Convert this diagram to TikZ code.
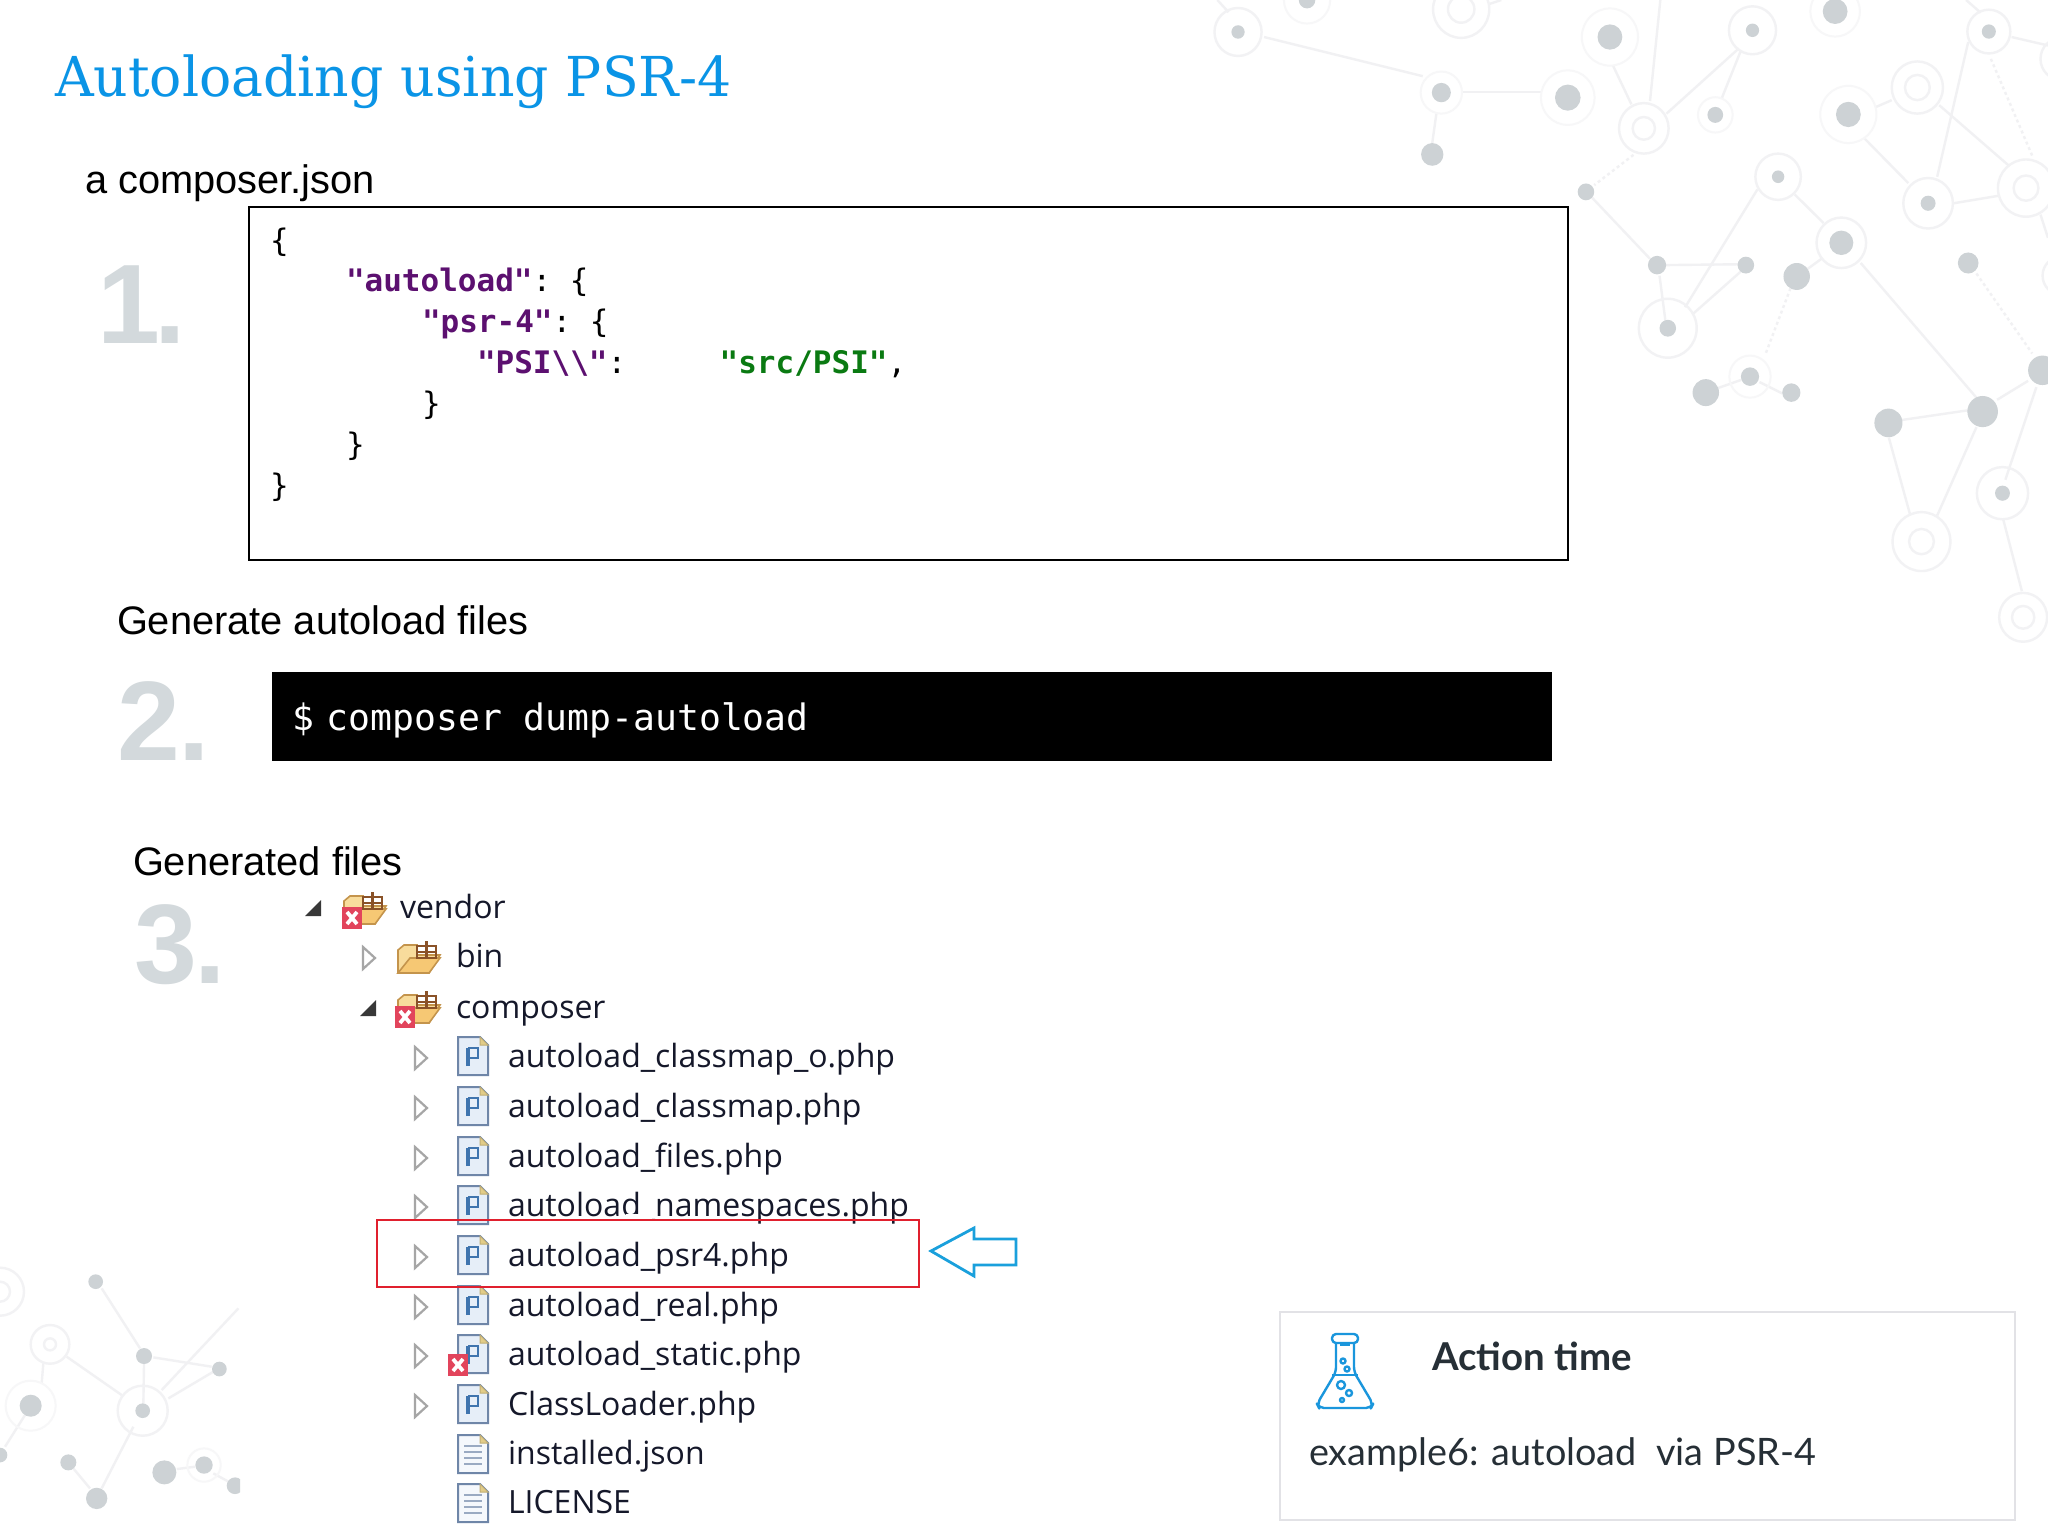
\documentclass[tikz,border=0pt]{standalone}
\usepackage{fontspec}
\setmainfont{Liberation Sans}
\setmonofont{DejaVu Sans Mono}
\newfontfamily\titlefont{DejaVu Serif}
\newfontfamily\treefont{Open Sans}
\newfontfamily\cardfont{Lato}
\definecolor{titleblue}{HTML}{0A94E6}
\definecolor{numgrey}{HTML}{D3D9DC}
\definecolor{keypurple}{HTML}{5C1070}
\definecolor{valgreen}{HTML}{0A7A12}
\definecolor{dotgrey}{HTML}{CDD2D5}
\definecolor{linegrey}{HTML}{F1F1F3}
\definecolor{ringgrey}{HTML}{F2F2F4}
\definecolor{treetext}{HTML}{15182A}
\definecolor{boxred}{HTML}{E0202E}
\definecolor{arrowblue}{HTML}{1AA0DC}
\definecolor{cardedge}{HTML}{E2E2E6}
\definecolor{cardtext}{HTML}{262F36}
\definecolor{flaskblue}{HTML}{1A96DC}
\definecolor{filefill}{HTML}{E6EEF8}
\definecolor{fileedge}{HTML}{6F86A8}
\definecolor{earfill}{HTML}{E2CC88}
\definecolor{pblue}{HTML}{3F74AE}
\definecolor{badgered}{HTML}{E2445C}
\definecolor{foldback}{HTML}{F8DC9C}
\definecolor{foldfront}{HTML}{F6C874}
\definecolor{foldedge}{HTML}{C4944C}
\definecolor{packbrown}{HTML}{8A5228}
\tikzset{
  txt/.style={inner sep=0pt,outer sep=0pt,anchor=base west},
  bodytxt/.style={txt,font=\fontsize{19.9}{24}\selectfont,text=black},
  bignum/.style={txt,font=\fontsize{56.5}{60}\selectfont\bfseries,text=numgrey},
  codetxt/.style={txt,font=\fontsize{15.5}{18}\selectfont\ttfamily},
  treetxt/.style={txt,font=\treefont\fontsize{16}{18}\selectfont,text=treetext},
  netline/.style={draw=linegrey,line width=1.2pt},
  netdot/.style={draw=linegrey,line width=1.2pt,dash pattern=on 1.5pt off 1.5pt},
  phpfile/.pic={
    \path[fill=filefill,draw=fileedge,line width=1pt] (-15,-19)--(7,-19)--(15,-11)--(15,19)--(-15,19)--cycle;
    \path[fill=earfill,draw=earfill!85!black,line width=.5pt] (7,-19)--(7,-11)--(15,-11)--cycle;
    \draw[pblue,line width=1.9pt] (-5,10)--(-5,-8);
    \draw[pblue,line width=1.4pt] (-5,-8)--(5,-8)--(5,2)--(-5,2);
  },
  txtfile/.pic={
    \path[fill=filefill!40,draw=fileedge,line width=1pt] (-15,-19)--(7,-19)--(15,-11)--(15,19)--(-15,19)--cycle;
    \path[fill=earfill,draw=earfill!85!black,line width=.5pt] (7,-19)--(7,-11)--(15,-11)--cycle;
    \foreach \ly in {-8,-2,4,10}{\draw[fileedge!70,line width=1.1pt] (-9,\ly)--(9,\ly);}
  },
  folderpack/.pic={
    \path[fill=foldback,draw=foldedge,line width=.8pt] (-21,14)--(-21,-7)--(-15,-12)--(-2,-12)--(-2,-2)--(21,-2)--(10,16)--(-21,16)--cycle;
    \path[fill=foldfront,draw=foldedge,line width=.8pt] (-21,16)--(-9,1)--(21,1)--(10,16)--cycle;
    \draw[packbrown,line width=1.4pt] (-2,-11) rectangle (17,1) (7.5,-16)--(7.5,1) (-2,-5)--(17,-5);
  },
  xbadge/.pic={
    \fill[badgered] (-10,-11) rectangle (10,11);
    \draw[white,line width=1.9pt] (-5,-6)--(5,6) (5,-6)--(-5,6);
  },
  triopen/.pic={\draw[gray!70,fill=white,line width=1.1pt] (-6,-11)--(6,0)--(-6,11)--cycle;},
  trifill/.pic={\fill[black!78] (8,-8)--(8,8)--(-8,8)--cycle;},
}
\newcommand{\targetring}[4]{\draw[ringgrey,line width=1.2pt] (#1,#2) circle (#3) (#1,#2) circle (#4);}
\newcommand{\dotring}[4]{\draw[ringgrey,line width=1.2pt] (#1,#2) circle (#3); \fill[dotgrey] (#1,#2) circle (#4);}
\newcommand{\halodot}[4]{\draw[ringgrey!60,line width=1pt] (#1,#2) circle (#3); \fill[dotgrey] (#1,#2) circle (#4);}
\begin{document}
\begin{tikzpicture}[x=0.5pt,y=-0.5pt]
\useasboundingbox (0,0) rectangle (2048,1536);
\fill[white] (0,0) rectangle (2048,1536);

% network, upper right
\begin{scope}[shift={(1400,0)},x=0.2066pt,y=-0.2104pt]
  \clip (-500,0) rectangle (1568,1600);
  \foreach \a/\b/\c/\d in {-329/88/55/181,-442/0/-415/29,150/218/340/218,88/270/78/340,515/155/560/248,630/0/605/240,645/270/820/115,825/120/778/235,465/470/605/615,640/630/820/628,628/655/642/760,690/730/865/450,710/745/825/645,955/462/1025/530,1020/615/985/640,770/922/825/903,870/908/925/935,1115/625/1395/945,1215/998/1375/975,1183/1040/1235/1225,1395/1015/1300/1225,1445/950/1520/905,1540/920/1465/1140,1460/1235/1505/1405,1125/330/1230/435,1150/255/1190/238,1305/250/1475/395,1375/100/1300/420,1340/483/1450/465,1480/88/1568/108,1370/0/1405/30,1550/510/1568/565,215/10/245/0}
    {\draw[netline] (\a,\b)--(\c,\d);}
  \foreach \a/\b/\c/\d in {565/368/470/440,945/685/885/840,1430/140/1530/370,1395/650/1530/840}
    {\draw[netdot] (\a,\b)--(\c,\d);}
  \dotring{-392}{76}{57}{16}
  \halodot{-225}{0}{56}{20}
  \targetring{148}{22}{68}{32}
  \targetring{590}{305}{60}{27}
  \targetring{1252}{208}{62}{30}
  \targetring{1515}{447}{68}{30}
  \targetring{1262}{1287}{70}{30}
  \targetring{1508}{1467}{58}{27}
  \targetring{1600}{655}{45}{20}
  \targetring{1600}{140}{50}{20}
  \dotring{853}{72}{57}{16}
  \dotring{915}{420}{55}{15}
  \dotring{1278}{483}{60}{18}
  \dotring{1425}{75}{52}{17}
  \dotring{648}{780}{70}{20}
  \dotring{1458}{1172}{62}{18}
  \dotring{1068}{577}{60}{29}
  \halodot{508}{88}{68}{30}
  \halodot{100}{220}{50}{23}
  \halodot{406}{232}{65}{31}
  \halodot{1085}{272}{68}{30}
  \halodot{1053}{27}{60}{30}
  \halodot{763}{273}{42}{19}
  \halodot{847}{895}{50}{22}
  \foreach \a/\b/\r in {78/367/27,450/456/20,622/630/22,837/630/20,960/657/32,740/933/32,947/933/22,1182/1005/34,1410/978/37,1375/625/25,1555/880/35}
    {\fill[dotgrey] (\a,\b) circle (\r);}
\end{scope}

% network, lower left
\begin{scope}[shift={(0,1250)},x=0.1667pt,y=-0.1667pt]
  \clip (0,0) rectangle (720,860);
  \foreach \a/\b/\c/\d in {305/115/420/295,432/340/430/460,460/322/635/350,200/320/365/435,130/340/125/400,485/420/715/175,505/445/640/365,400/530/305/715,220/655/270/715,75/495/15/590,530/657/585/650,640/670/695/700}
    {\draw[netline] (\a,\b)--(\c,\d);}
  \targetring{0}{125}{72}{30}
  \targetring{150}{283}{58}{18}
  \dotring{428}{482}{75}{22}
  \halodot{92}{467}{75}{33}
  \halodot{612}{645}{50}{26}
  \foreach \a/\b/\r in {287/95/22,432/318/24,658/357/22,205/637/24,290/745/32,493/667/36,705/707/25,0/615/22}
    {\fill[dotgrey] (\a,\b) circle (\r);}
\end{scope}

% headings
\node[txt,font=\titlefont\fontsize{27.5}{30}\selectfont,text=titleblue,xscale=.975] (title) at (55,97) {Autoloading using PSR-4};
\node[bodytxt] (h1) at (85,193) {a composer.json};
\node[bodytxt] (h2) at (117,634) {Generate autoload files};
\node[bodytxt] (h3) at (133,875) {Generated files};
\node[bignum] (n1) at (97,343) {1\kern-2.5pt.};
\node[bignum] (n2) at (117,760) {2\kern-0.5pt.};
\node[bignum] (n3) at (134,983) {3\kern-1pt.};

% composer.json box
\draw[black,line width=1.4pt] (249,207) rectangle (1568,560);
\node[codetxt] (c1) at (270,251) {\{};
\node[codetxt] (c2) at (346,291) {{\bfseries\color{keypurple}"autoload"}: \{};
\node[codetxt] (c3) at (422,332) {{\bfseries\color{keypurple}"psr-4"}: \{};
\node[codetxt] (c4) at (477,373) {{\bfseries\color{keypurple}"PSI\textbackslash\textbackslash"}:~~~~~{\bfseries\color{valgreen}"src/PSI"},};
\node[codetxt] (c5) at (422,414) {\}};
\node[codetxt] (c6) at (346,455) {\}};
\node[codetxt] (c7) at (270,496) {\}};

% command bar
\fill[black] (272,672) rectangle (1552,761);
\node[txt,font=\fontsize{18.2}{22}\selectfont\ttfamily,text=white] (cmd) at (292,730) {\$\hspace{-4.6pt} composer dump-autoload};

% tree
\pic at (313,908) {trifill};
\pic at (365,908) {folderpack};
\pic at (352,918) {xbadge};
\node[treetxt] (vendor) at (400,918) {vendor};
\pic at (369,958) {triopen};
\pic at (419,957) {folderpack};
\node[treetxt] (bin) at (456,967) {bin};
\pic at (368,1008) {trifill};
\pic at (419,1007) {folderpack};
\pic at (405,1017) {xbadge};
\node[treetxt] (composer) at (456,1018) {composer};
\foreach \nm/\lab/\ro in {a/autoload\_classmap\_o.php/1056,b/autoload\_classmap.php/1106,c/autoload\_files.php/1156,d/autoload\_namespaces.php/1205,e/autoload\_psr4.php/1255,f/autoload\_real.php/1305,g/autoload\_static.php/1354,h/ClassLoader.php/1404}{
  \pic at (421,\ro+2) {triopen};
  \pic at (473,\ro) {phpfile};
  \node[treetxt] (file\nm) at (508,\ro+11) {\lab};
}
\pic at (458,1365) {xbadge};
\pic at (473,1454) {txtfile};
\node[treetxt] (filei) at (508,1464) {installed.json};
\pic at (473,1503) {txtfile};
\node[treetxt] (filej) at (508,1513) {LICENSE};

% highlight and arrow
\fill[white] (626,1214) rectangle (652,1224);
\draw[boxred,line width=1.4pt] (377,1220) rectangle (919,1287);
\draw[arrowblue,line width=1.4pt,line join=miter] (931,1251)--(974,1228)--(974,1239)--(1016,1239)--(1016,1265)--(974,1265)--(974,1276)--cycle;

% action card
\draw[cardedge,line width=1.2pt] (1280,1312) rectangle (2015,1520);
\begin{scope}[flaskblue,line width=1.2pt,line join=round]
  \draw[rounded corners=2pt] (1332,1334) rectangle (1358,1343);
  \draw[rounded corners=2.5pt] (1336,1343)--(1336,1372)--(1317,1404)--(1319,1408)--(1371,1408)--(1373,1404)--(1354,1372)--(1354,1343);
  \draw (1332,1375)--(1358,1375) (1340,1345)--(1350,1345);
  \draw (1343,1361) circle (2.5) (1347,1369) circle (2.5) (1341,1385) circle (4) (1349,1393) circle (3) (1342,1400) circle (2);
\end{scope}
\node[txt,font=\cardfont\fontsize{19.2}{22}\selectfont\bfseries,text=cardtext] (act) at (1432,1370) {Action time};
\node[txt,font=\cardfont\fontsize{18.9}{22}\selectfont,text=cardtext] (ex) at (1309,1465) {example6: autoload~~via PSR-4};
\end{tikzpicture}
\end{document}
